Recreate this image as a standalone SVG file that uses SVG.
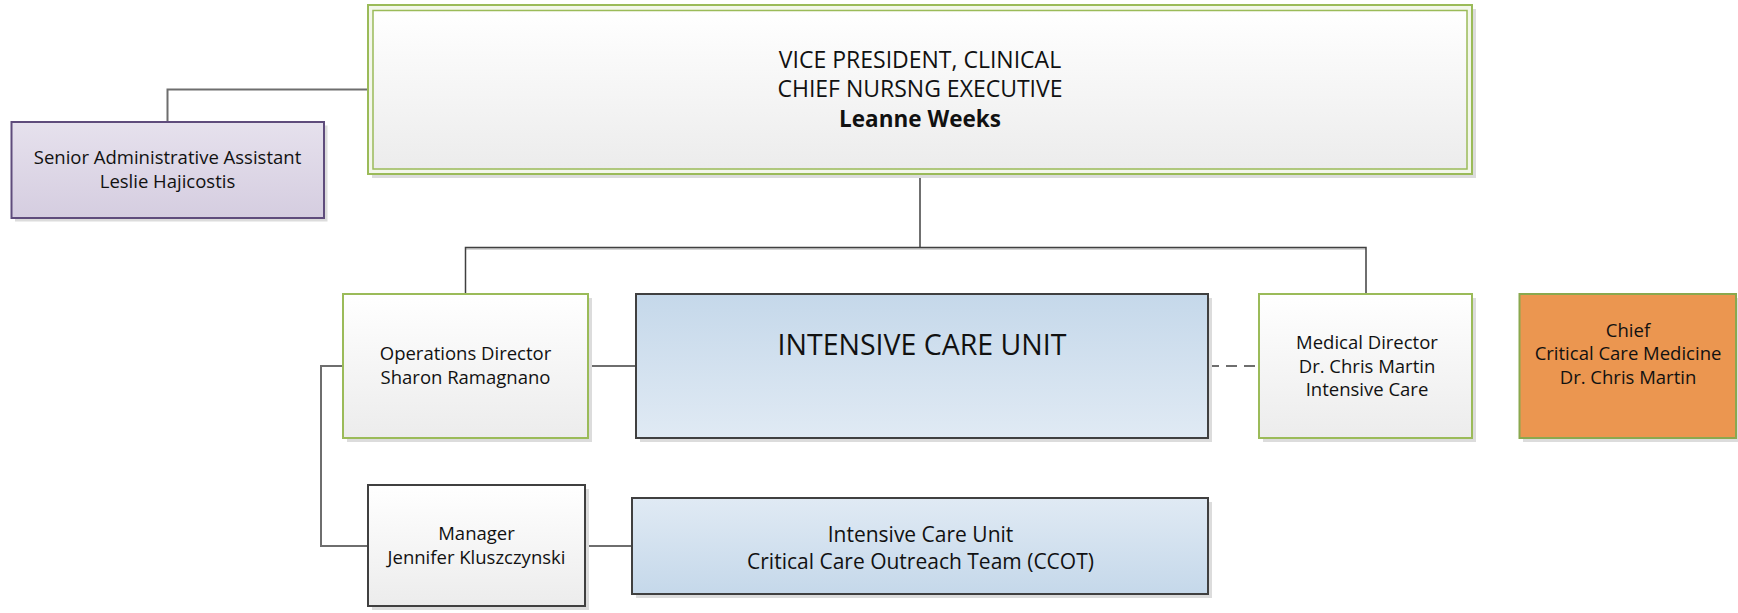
<svg xmlns="http://www.w3.org/2000/svg" width="1738" height="613" viewBox="0 0 1738 613">
<defs>
<linearGradient id="gGray" x1="0" y1="0" x2="0" y2="1"><stop offset="0" stop-color="#ffffff"/><stop offset="1" stop-color="#ececec"/></linearGradient>
<linearGradient id="gBlue" x1="0" y1="0" x2="0" y2="1"><stop offset="0" stop-color="#c5d8ea"/><stop offset="1" stop-color="#e0eaf4"/></linearGradient>
<linearGradient id="gBlue2" x1="0" y1="0" x2="0" y2="1"><stop offset="0" stop-color="#e0eaf4"/><stop offset="1" stop-color="#c5d8ea"/></linearGradient>
<linearGradient id="gPurple" x1="0" y1="0" x2="0" y2="1"><stop offset="0" stop-color="#e6e1ed"/><stop offset="1" stop-color="#d5cde0"/></linearGradient>
<style>
.sh{fill:#dcdcdc}
.t{font-family:"Open Sans","Noto Sans",sans-serif;font-size:18.5px;fill:#111;text-anchor:middle}
.big{font-size:23px}
.icu{font-size:28.5px}
.mid{font-size:21px}
.b{font-weight:bold;font-size:22.5px}
.cn{fill:none;stroke:#6e6e6e;stroke-width:2}
.cd{fill:none;stroke:#404040;stroke-width:1.5}
.green{stroke:#9bbb59;stroke-width:2}
.dark{stroke:#404040;stroke-width:2}
</style>
</defs>
<rect width="1738" height="613" fill="#ffffff"/>

<g id="connectors">
<polyline class="cn" points="167.5,122 167.5,89.5 368,89.5"/>
<polyline class="cd" points="920,174 920,247.5"/>
<line x1="465.5" y1="249" x2="1366" y2="249" stroke="#c8c8c8" stroke-width="1.5"/>
<polyline class="cd" points="465.5,294 465.5,247.5 1366,247.5 1366,294"/>
<line class="cn" x1="588" y1="366" x2="636" y2="366"/>
<line class="cn" x1="1208" y1="366" x2="1259" y2="366" stroke-dasharray="11,7"/>
<polyline class="cn" points="343,366 321,366 321,546 368,546"/>
<line class="cn" x1="585" y1="546" x2="632" y2="546"/>
</g>

<g id="vp">
<rect class="sh" x="372" y="9" width="1104" height="169"/>
<rect x="368" y="5" width="1104" height="169" fill="#f3f7ea" stroke="#9bbb59" stroke-width="2"/>
<rect x="373" y="10.5" width="1094" height="158.5" fill="url(#gGray)" stroke="#9bbb59" stroke-width="1.5"/>
<text class="t big" x="920" y="68">VICE PRESIDENT, CLINICAL</text>
<text class="t big" x="920" y="97">CHIEF NURSNG EXECUTIVE</text>
<text class="t b" x="920" y="126.5">Leanne Weeks</text>
</g>

<g id="admin">
<rect class="sh" x="15" y="125.5" width="312.5" height="96"/>
<rect x="11.5" y="122" width="312.5" height="96" fill="url(#gPurple)" stroke="#5f4c7c" stroke-width="2"/>
<text class="t" x="167.5" y="163.5">Senior Administrative Assistant</text>
<text class="t" x="167.5" y="187.5">Leslie Hajicostis</text>
</g>

<g id="ops">
<rect class="sh" x="347" y="298" width="245" height="144"/>
<rect class="green" x="343" y="294" width="245" height="144" fill="url(#gGray)"/>
<text class="t" x="465.5" y="360">Operations Director</text>
<text class="t" x="465.5" y="383.5">Sharon Ramagnano</text>
</g>

<g id="icu">
<rect class="sh" x="640" y="298" width="572" height="144"/>
<rect class="dark" x="636" y="294" width="572" height="144" fill="url(#gBlue)"/>
<text class="t icu" x="922" y="354.5">INTENSIVE CARE UNIT</text>
</g>

<g id="meddir">
<rect class="sh" x="1263" y="298" width="213" height="144"/>
<rect class="green" x="1259" y="294" width="213" height="144" fill="url(#gGray)"/>
<text class="t" x="1367" y="349">Medical Director</text>
<text class="t" x="1367" y="372.5">Dr. Chris Martin</text>
<text class="t" x="1367" y="395.5">Intensive Care</text>
</g>

<g id="chief">
<rect class="sh" x="1523" y="298" width="217" height="144"/>
<rect x="1519.5" y="294" width="216.5" height="144" fill="#eb9650" stroke="#8aa84e" stroke-width="2"/>
<text class="t" x="1628" y="337">Chief</text>
<text class="t" x="1628" y="360">Critical Care Medicine</text>
<text class="t" x="1628" y="383.5">Dr. Chris Martin</text>
</g>

<g id="manager">
<rect class="sh" x="372" y="489" width="217" height="121"/>
<rect class="dark" x="368" y="485" width="217" height="121" fill="url(#gGray)"/>
<text class="t" x="476.5" y="539.5">Manager</text>
<text class="t" x="476.5" y="563.5">Jennifer Kluszczynski</text>
</g>

<g id="ccot">
<rect class="sh" x="636" y="502" width="576" height="96"/>
<rect class="dark" x="632" y="498" width="576" height="96" fill="url(#gBlue2)"/>
<text class="t mid" x="920.5" y="541.5">Intensive Care Unit</text>
<text class="t mid" x="920.5" y="568.5">Critical Care Outreach Team (CCOT)</text>
</g>
</svg>
